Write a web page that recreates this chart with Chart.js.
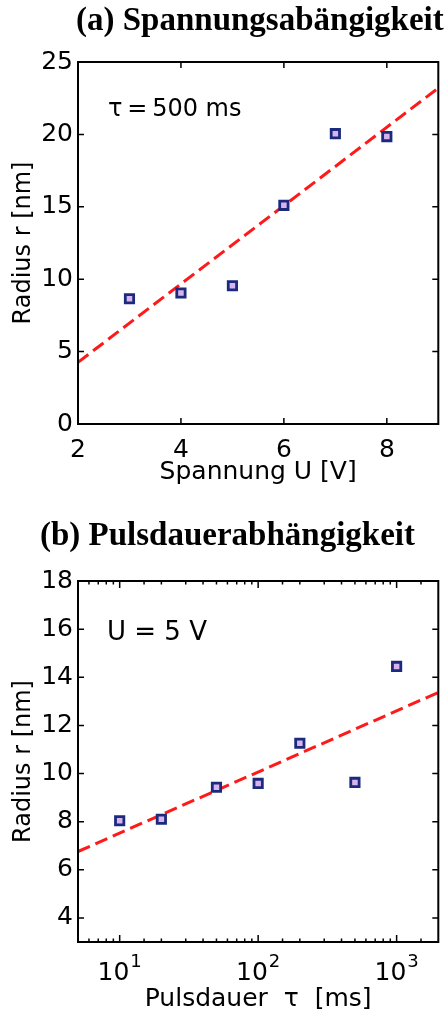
<!DOCTYPE html>
<html>
<head>
<meta charset="utf-8">
<script src="https://cdn.jsdelivr.net/npm/chart.js"></script>
<style>
  html, body { margin: 0; padding: 0; background: #fff; }
  .panel { position: absolute; left: 0; }
  #wrapA { top: 0; }
  #wrapB { top: 505px; }
</style>
</head>
<body>
<div class="panel" id="wrapA"><canvas id="chartA" width="447" height="505"></canvas></div>
<div class="panel" id="wrapB"><canvas id="chartB" width="447" height="511"></canvas></div>
<script>
// (a) radius vs. voltage, pulse length 500 ms
var voltage = [3, 4, 5, 6, 7, 8];
var radiusA = [8.65, 9.05, 9.55, 15.1, 20.05, 19.85];
var fitVoltage = [2, 9];
var fitRadiusA = [4.26, 23.2];

// (b) radius vs. pulse length, U = 5 V
var pulse = [10, 20, 50, 100, 200, 500, 1000];
var radiusB = [8.04, 8.1, 9.43, 9.59, 11.26, 9.63, 14.45];
var fitPulse = [5, 2000];
var fitRadiusB = [6.76, 13.37];
// decade labels: mantissa text plus exponent
var pulseTickValues = [10, 100, 1000];
var pulseTickExps = ['1', '2', '3'];

var SANS = "'DejaVu Sans', sans-serif";
var SERIF = "'Liberation Serif', serif";
var markerEdge = '#1b2a7c';
var markerFill = '#d9b3ee';

function toPoints(xs, ys) {
  return xs.map(function(x, i) { return { x: x, y: ys[i] }; });
}

// matplotlib-like frame: box around the plot area with inward ticks on all four sides
var framePlugin = {
  id: 'frame',
  afterDraw: function(chart, args, opts) {
    var ctx = chart.ctx;
    var a = chart.chartArea;
    var xs = chart.scales.x, ys = chart.scales.y;
    ctx.save();
    ctx.strokeStyle = '#000';
    ctx.lineWidth = 1.5;
    xs.ticks.forEach(function(t) {
      var px = xs.getPixelForValue(t.value);
      if (px < a.left + 1 || px > a.right - 1) return;
      var len = 6;
      if (opts.logX) {
        var lg = Math.log10(t.value);
        len = Math.abs(lg - Math.round(lg)) < 1e-9 ? 7 : 3.5;
      }
      ctx.beginPath();
      ctx.moveTo(px, a.bottom); ctx.lineTo(px, a.bottom - len);
      ctx.moveTo(px, a.top); ctx.lineTo(px, a.top + len);
      ctx.stroke();
    });
    ys.ticks.forEach(function(t) {
      var py = ys.getPixelForValue(t.value);
      if (py < a.top + 1 || py > a.bottom - 1) return;
      ctx.beginPath();
      ctx.moveTo(a.left, py); ctx.lineTo(a.left + 6, py);
      ctx.moveTo(a.right, py); ctx.lineTo(a.right - 6, py);
      ctx.stroke();
    });
    ctx.lineWidth = 2;
    ctx.strokeRect(a.left, a.top, a.right - a.left, a.bottom - a.top);

    ctx.fillStyle = '#000';
    ctx.textBaseline = 'alphabetic';
    ctx.textAlign = 'left';

    // 10^n labels under the log axis
    if (opts.logX) {
      pulseTickValues.forEach(function(v, i) {
        var px = xs.getPixelForValue(v);
        ctx.font = '25px ' + SANS;
        var wBase = ctx.measureText('10').width;
        ctx.font = '18px ' + SANS;
        var wExp = ctx.measureText(pulseTickExps[i]).width;
        var x0 = px - (wBase + 1 + wExp) / 2;
        ctx.font = '25px ' + SANS;
        ctx.fillText('10', x0, a.bottom + 38);
        ctx.font = '18px ' + SANS;
        ctx.fillText(pulseTickExps[i], x0 + wBase + 1, a.bottom + 25);
      });
    }

    // panel heading
    ctx.font = 'bold 33px ' + SERIF;
    ctx.fillText(opts.heading, opts.headingX, opts.headingY);

    // parameter note inside the plot
    ctx.font = opts.noteSize + 'px ' + SANS;
    ctx.fillText(opts.note, opts.noteX, opts.noteY);
    ctx.restore();
  }
};

function baseOptions(fitHeight, titlePadBottom, tickPad) {
  return {
    responsive: false,
    animation: false,
    layout: { padding: { left: 0, right: 6, top: 0, bottom: 0 } },
    plugins: { legend: { display: false }, tooltip: { enabled: false } },
    scales: {
      x: {
        type: 'linear',
        grid: { display: false, drawTicks: false },
        border: { display: false },
        ticks: { color: '#000', font: { family: SANS, size: 25 }, padding: tickPad, maxRotation: 0, autoSkip: false },
        title: { display: true, color: '#000', font: { family: SANS, size: 25 }, padding: { top: 0, bottom: titlePadBottom } },
        afterFit: function(s) { s.height = fitHeight; s.paddingLeft = 0; s.paddingRight = 0; }
      },
      y: {
        type: 'linear',
        grid: { display: false, drawTicks: false },
        border: { display: false },
        ticks: { color: '#000', font: { family: SANS, size: 25 }, padding: 5 },
        title: { display: true, text: 'Radius r [nm]', color: '#000', font: { family: SANS, size: 24 }, padding: { top: 9, bottom: 0 } },
        afterFit: function(s) { s.width = 78; s.paddingTop = 0; s.paddingBottom = 0; }
      }
    }
  };
}

function scatterSet(xs, ys) {
  return {
    data: toPoints(xs, ys),
    showLine: false,
    pointStyle: 'rect',
    pointRadius: 5.9,
    pointBorderWidth: 2.8,
    pointBorderColor: markerEdge,
    pointBackgroundColor: markerFill
  };
}

function fitSet(xs, ys) {
  return {
    data: toPoints(xs, ys),
    showLine: true,
    pointRadius: 0,
    borderColor: '#ff1a1a',
    borderWidth: 3,
    borderDash: [13, 6],
    fill: false
  };
}

// chart (a)
var optsA = baseOptions(81, 18, 11);
optsA.layout.padding.top = 62;
optsA.scales.x.min = 2;
optsA.scales.x.max = 9;
optsA.scales.x.ticks.stepSize = 2;
optsA.scales.x.ticks.includeBounds = false;
optsA.scales.x.title.text = 'Spannung U [V]';
optsA.scales.y.min = 0;
optsA.scales.y.max = 25;
optsA.scales.y.ticks.stepSize = 5;
optsA.plugins.frame = {
  heading: '(a) Spannungsab\u00e4ngigkeit', headingX: 76, headingY: 30,
  note: '\u03c4\u2009=\u2009500 ms', noteSize: 24, noteX: 108, noteY: 116
};

new Chart(document.getElementById('chartA').getContext('2d'), {
  type: 'scatter',
  data: { datasets: [scatterSet(voltage, radiusA), fitSet(fitVoltage, fitRadiusA)] },
  options: optsA,
  plugins: [framePlugin]
});

// chart (b)
var optsB = baseOptions(74, 2, 14);
optsB.layout.padding.top = 76;
optsB.scales.x.type = 'logarithmic';
optsB.scales.x.min = 5;
optsB.scales.x.max = 2000;
optsB.scales.x.ticks.callback = function() { return ''; };
optsB.scales.x.title.text = 'Pulsdauer  \u03c4  [ms]';
optsB.scales.y.min = 3;
optsB.scales.y.max = 18;
optsB.scales.y.ticks.stepSize = 2;
optsB.scales.y.ticks.includeBounds = false;
optsB.plugins.frame = {
  logX: true,
  heading: '(b) Pulsdauerabh\u00e4ngigkeit', headingX: 40, headingY: 40,
  note: 'U = 5 V', noteSize: 26, noteX: 107, noteY: 135
};

new Chart(document.getElementById('chartB').getContext('2d'), {
  type: 'scatter',
  data: { datasets: [scatterSet(pulse, radiusB), fitSet(fitPulse, fitRadiusB)] },
  options: optsB,
  plugins: [framePlugin]
});
</script>
</body>
</html>
